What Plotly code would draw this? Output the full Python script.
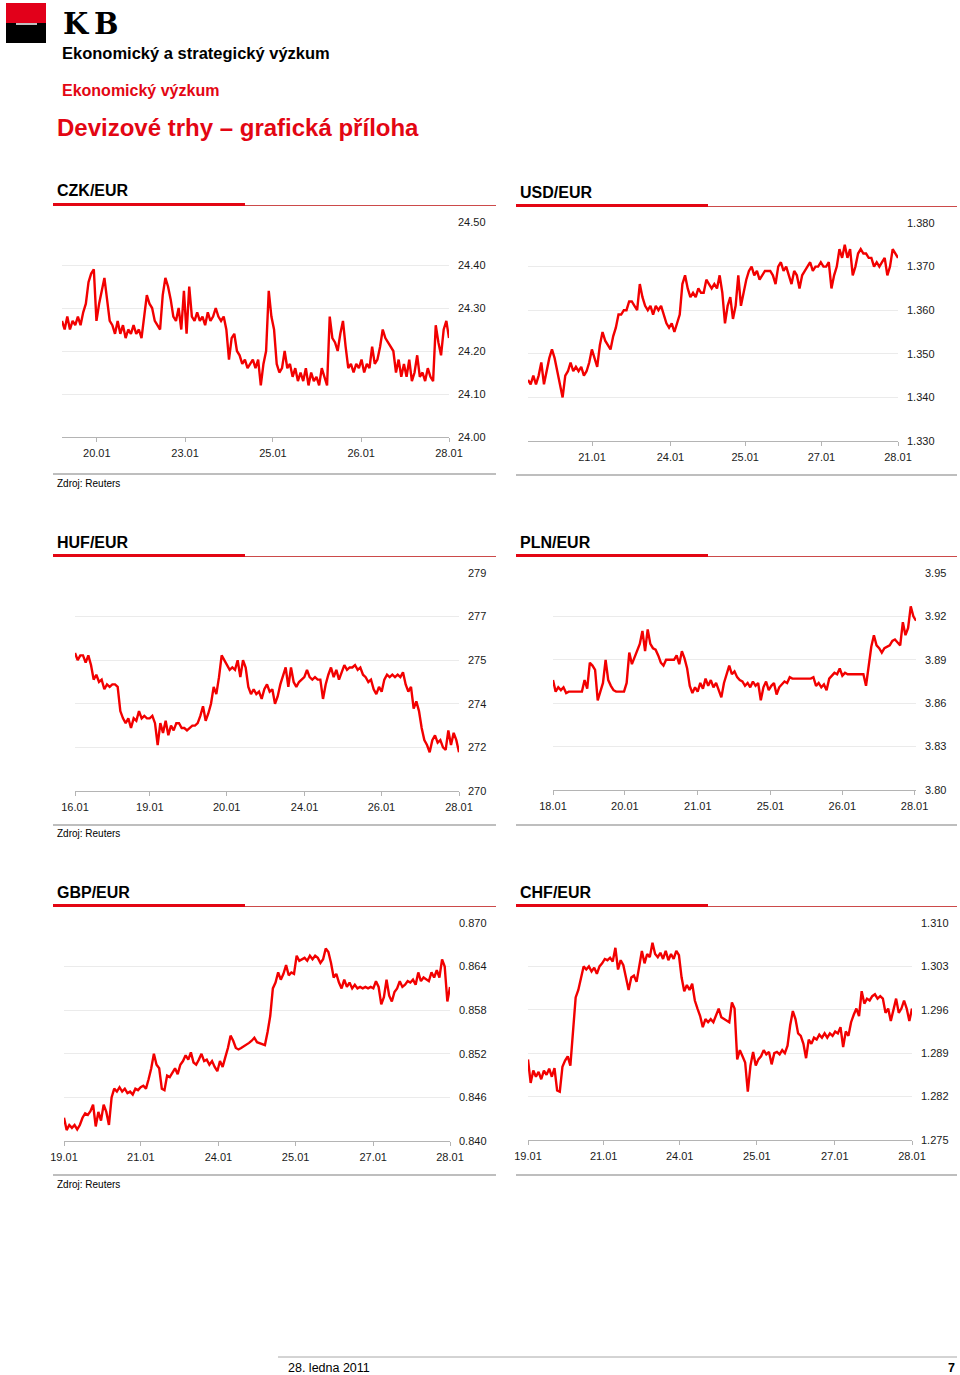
import plotly.graph_objects as go

W, H = 960, 1375
RED = "#e30613"
RULE_RED = "#cc4a4a"
LINE_RED = "#f20000"
FONT = "Liberation Sans, Arial, sans-serif"

czk_values = [
    24.27, 24.25, 24.28, 24.25, 24.27, 24.26, 24.28, 24.26, 24.29,
    24.31, 24.36, 24.38, 24.39, 24.27, 24.31, 24.34, 24.37, 24.32, 24.27,
    24.26, 24.24, 24.27, 24.24, 24.26, 24.23, 24.25, 24.24, 24.26, 24.24, 24.25, 24.23,
    24.28, 24.33, 24.31, 24.30, 24.27, 24.26, 24.25, 24.33, 24.37, 24.35, 24.32, 24.28,
    24.27, 24.30, 24.25, 24.34, 24.24, 24.35,
    24.28, 24.27, 24.29, 24.27, 24.28, 24.26, 24.29, 24.27, 24.28, 24.30, 24.28, 24.27,
    24.28, 24.25, 24.18, 24.23, 24.24, 24.20, 24.19, 24.17, 24.18, 24.16, 24.17, 24.18,
    24.16, 24.18, 24.12, 24.17, 24.20, 24.34, 24.28, 24.25, 24.17, 24.15, 24.16, 24.20,
    24.16, 24.17,
    24.14, 24.16, 24.13, 24.15, 24.13, 24.16, 24.12, 24.15, 24.13, 24.14, 24.12, 24.16, 24.14,
    24.12, 24.28, 24.23, 24.22, 24.20, 24.24, 24.27, 24.21, 24.16, 24.17, 24.15, 24.17,
    24.16, 24.18, 24.15, 24.17, 24.16, 24.21, 24.17, 24.18, 24.21, 24.25, 24.23, 24.22,
    24.21, 24.20, 24.15, 24.18, 24.14, 24.17, 24.14, 24.18, 24.13, 24.15, 24.19, 24.14,
    24.15, 24.13, 24.16, 24.14, 24.13, 24.26, 24.22, 24.19, 24.25, 24.27, 24.23,
]
czk_dates = ["20.01", "23.01", "25.01", "26.01", "28.01"]
czk_date_frac = [0.090, 0.318, 0.545, 0.773, 1.0]
czk_yticks = [24.00, 24.10, 24.20, 24.30, 24.40, 24.50]
czk_ylabels = ["24.00", "24.10", "24.20", "24.30", "24.40", "24.50"]

usd_values = [
    1.344, 1.343, 1.345, 1.343, 1.345, 1.348, 1.343, 1.346, 1.349, 1.351, 1.349, 1.346,
    1.343, 1.340, 1.345, 1.346, 1.348, 1.346, 1.347, 1.346, 1.347, 1.345, 1.346, 1.348,
    1.351, 1.349, 1.347, 1.352, 1.355, 1.353, 1.352, 1.351, 1.354, 1.356, 1.359, 1.359,
    1.360, 1.360, 1.362, 1.362, 1.361, 1.360, 1.366, 1.363, 1.361, 1.360, 1.361, 1.359,
    1.361, 1.360, 1.361, 1.359, 1.357, 1.356, 1.357, 1.355, 1.357, 1.359, 1.366, 1.368,
    1.365, 1.363, 1.364, 1.363, 1.365, 1.364, 1.364, 1.367, 1.366, 1.365, 1.366, 1.365,
    1.368, 1.364, 1.357, 1.361, 1.363, 1.358, 1.361, 1.368, 1.361, 1.364, 1.367, 1.369,
    1.370, 1.368, 1.369, 1.367, 1.368, 1.369, 1.369, 1.369, 1.368, 1.366, 1.370, 1.371,
    1.369, 1.370, 1.368, 1.366, 1.369, 1.368, 1.365, 1.368, 1.369, 1.370, 1.371, 1.369,
    1.370, 1.370, 1.371, 1.370, 1.370, 1.371, 1.365, 1.368, 1.370, 1.374, 1.372, 1.375,
    1.372, 1.374, 1.368, 1.370, 1.373, 1.374, 1.373, 1.373, 1.372, 1.372, 1.370, 1.371,
    1.370, 1.371, 1.372, 1.368, 1.370, 1.374, 1.373, 1.372,
]
usd_dates = ["21.01", "24.01", "25.01", "27.01", "28.01"]
usd_date_frac = [0.173, 0.385, 0.587, 0.793, 1.0]
usd_yticks = [1.330, 1.340, 1.350, 1.360, 1.370, 1.380]
usd_ylabels = ["1.330", "1.340", "1.350", "1.360", "1.370", "1.380"]

huf_values = [
    275.7, 275.4, 275.6, 275.6, 275.3, 275.6, 275.2, 274.6, 274.8, 274.5, 274.6, 274.2,
    274.4, 274.3, 274.4, 274.4, 274.3, 273.3, 273.0, 272.8, 273.0, 272.6, 273.0, 272.9,
    273.3, 273.0, 273.1, 273.0, 273.0, 273.1, 272.8, 271.9, 272.8, 272.4, 272.9, 272.3,
    272.7, 272.5, 272.8, 272.8, 272.6, 272.6, 272.5, 272.6, 272.7, 272.7, 272.8, 273.1,
    273.5, 272.9, 273.2, 273.6, 274.3, 274.0, 274.7, 275.6, 275.4, 275.2, 275.0, 275.1,
    275.0, 275.4, 274.7, 275.4, 275.1, 274.3, 274.0, 274.2, 274.0, 274.1, 273.8, 274.2,
    274.4, 274.1, 274.2, 273.6, 273.9, 274.4, 274.8, 275.1, 274.3, 275.1, 274.5, 274.3,
    274.5, 274.6, 274.7, 275.0, 274.7, 274.6, 274.7, 274.6, 274.6, 273.8, 274.4, 274.8,
    275.1, 274.7, 275.0, 274.6, 274.9, 275.2, 275.0, 275.1, 275.1, 275.2, 275.0, 275.1,
    274.8, 274.7, 274.5, 274.6, 274.2, 274.0, 274.3, 274.1, 274.6, 274.8, 274.7, 274.8,
    274.7, 274.8, 274.7, 274.9, 274.4, 274.1, 274.3, 273.4, 273.7, 273.3, 272.6, 272.1,
    271.9, 271.6, 272.1, 272.3, 272.0, 272.1, 271.8, 271.7, 272.5, 271.9, 272.4, 272.1,
    271.6,
]
huf_dates = ["16.01", "19.01", "20.01", "24.01", "26.01", "28.01"]
huf_date_frac = [0.0, 0.195, 0.395, 0.598, 0.798, 1.0]
huf_yticks = [270.0, 271.8, 273.6, 275.4, 277.2, 279.0]
huf_ylabels = ["270", "272", "274", "275", "277", "279"]

pln_values = [
    3.876, 3.868, 3.871, 3.869, 3.871, 3.867, 3.868, 3.868, 3.868, 3.868, 3.868, 3.868,
    3.876, 3.870, 3.888, 3.886, 3.883, 3.862, 3.868, 3.874, 3.890, 3.876, 3.872, 3.869,
    3.868, 3.868, 3.868, 3.868, 3.874, 3.895, 3.887, 3.892, 3.896, 3.901, 3.910, 3.896,
    3.911, 3.901, 3.898, 3.897, 3.893, 3.888, 3.886, 3.890, 3.890, 3.890, 3.890, 3.893,
    3.887, 3.896, 3.891, 3.884, 3.872, 3.867, 3.871, 3.868, 3.874, 3.870, 3.877, 3.872,
    3.876, 3.871, 3.874, 3.869, 3.864, 3.874, 3.880, 3.886, 3.880, 3.882, 3.878, 3.876,
    3.875, 3.872, 3.874, 3.871, 3.875, 3.872, 3.874, 3.862, 3.871, 3.875, 3.869, 3.872,
    3.874, 3.866, 3.871, 3.873, 3.875, 3.874, 3.878, 3.877, 3.877, 3.877, 3.877, 3.877,
    3.877, 3.877, 3.877, 3.878, 3.872, 3.874, 3.871, 3.873, 3.869, 3.877, 3.879, 3.881,
    3.880, 3.884, 3.879, 3.881, 3.880, 3.880, 3.880, 3.880, 3.880, 3.880, 3.880, 3.872,
    3.886, 3.899, 3.907, 3.900, 3.898, 3.895, 3.898, 3.899, 3.900, 3.903, 3.904, 3.902,
    3.900, 3.916, 3.907, 3.912, 3.927, 3.920, 3.917,
]
pln_dates = ["18.01", "20.01", "21.01", "25.01", "26.01", "28.01"]
pln_date_frac = [0.0, 0.198, 0.399, 0.599, 0.797, 0.996]
pln_yticks = [3.80, 3.83, 3.86, 3.89, 3.92, 3.95]
pln_ylabels = ["3.80", "3.83", "3.86", "3.89", "3.92", "3.95"]

gbp_values = [
    0.8432, 0.8415, 0.8422, 0.8418, 0.8422, 0.8416, 0.8422, 0.8432, 0.8438, 0.8436,
    0.8441, 0.8450, 0.8420, 0.8440, 0.8428, 0.8450, 0.8440, 0.8422, 0.8460, 0.8472,
    0.8468, 0.8474, 0.8468, 0.8472, 0.8466, 0.8468, 0.8464, 0.8472, 0.8470, 0.8474,
    0.8476, 0.8472, 0.8485, 0.8500, 0.8520, 0.8505, 0.8500, 0.8472, 0.8470, 0.8490,
    0.8488, 0.8495, 0.8500, 0.8492, 0.8505, 0.8510, 0.8518, 0.8512, 0.8522, 0.8508,
    0.8505, 0.8512, 0.8520, 0.8510, 0.8512, 0.8505, 0.8510, 0.8502, 0.8496, 0.8510,
    0.8502, 0.8515, 0.8528, 0.8545, 0.8538, 0.8528, 0.8526, 0.8528, 0.8530, 0.8532,
    0.8535, 0.8538, 0.8542, 0.8536, 0.8535, 0.8533, 0.8532, 0.8550, 0.8572, 0.8610,
    0.8618, 0.8632, 0.8622, 0.8630, 0.8642, 0.8628, 0.8632, 0.8630, 0.8655, 0.8648,
    0.8650, 0.8652, 0.8648, 0.8655, 0.8650, 0.8655, 0.8652, 0.8645, 0.8650, 0.8665,
    0.8660, 0.8645, 0.8625, 0.8630, 0.8618, 0.8610, 0.8622, 0.8612, 0.8618, 0.8610,
    0.8615, 0.8610, 0.8612, 0.8610, 0.8612, 0.8610, 0.8612, 0.8610, 0.8620, 0.8612,
    0.8588, 0.8598, 0.8622, 0.8600, 0.8592, 0.8605, 0.8610, 0.8620, 0.8612, 0.8615,
    0.8620, 0.8618, 0.8622, 0.8615, 0.8632, 0.8620, 0.8625, 0.8622, 0.8620, 0.8632,
    0.8625, 0.8635, 0.8625, 0.8650, 0.8640, 0.8592, 0.8612,
]
gbp_dates = ["19.01", "21.01", "24.01", "25.01", "27.01", "28.01"]
gbp_date_frac = [0.0, 0.199, 0.400, 0.600, 0.801, 1.0]
gbp_yticks = [0.840, 0.846, 0.852, 0.858, 0.864, 0.870]
gbp_ylabels = ["0.840", "0.846", "0.852", "0.858", "0.864", "0.870"]

chf_values = [
    1.2880, 1.2842, 1.2862, 1.2852, 1.2860, 1.2848, 1.2862, 1.2855, 1.2865, 1.2852,
    1.2866, 1.2830, 1.2828, 1.2868, 1.2878, 1.2885, 1.2870, 1.2930, 1.2980, 1.2992,
    1.3010, 1.3030, 1.3025, 1.3030, 1.3022, 1.3028, 1.3018, 1.3030, 1.3035, 1.3042,
    1.3040, 1.3044, 1.3038, 1.3060, 1.3025, 1.3040, 1.3032, 1.3012, 1.2992, 1.3012,
    1.3015, 1.3005, 1.3030, 1.3055, 1.3035, 1.3050, 1.3045, 1.3068, 1.3050, 1.3045,
    1.3052, 1.3042, 1.3055, 1.3040, 1.3050, 1.3042, 1.3055, 1.3048, 1.3012, 1.2990,
    1.3000, 1.2992, 1.3002, 1.2975, 1.2962, 1.2950, 1.2932, 1.2945, 1.2940, 1.2945,
    1.2940, 1.2950, 1.2962, 1.2948, 1.2945, 1.2942, 1.2940, 1.2972, 1.2962, 1.2880,
    1.2895, 1.2885, 1.2875, 1.2828, 1.2870, 1.2892, 1.2870, 1.2880, 1.2885, 1.2895,
    1.2888, 1.2892, 1.2872, 1.2890, 1.2892, 1.2888, 1.2895, 1.2890, 1.2902, 1.2935,
    1.2958, 1.2945, 1.2922, 1.2918, 1.2905, 1.2882, 1.2912, 1.2905, 1.2915, 1.2912,
    1.2920, 1.2915, 1.2922, 1.2915, 1.2922, 1.2918, 1.2925, 1.2922, 1.2932, 1.2900,
    1.2925, 1.2918, 1.2940, 1.2952, 1.2962, 1.2950, 1.2990, 1.2970, 1.2978, 1.2975,
    1.2982, 1.2985, 1.2978, 1.2982, 1.2978, 1.2955, 1.2962, 1.2942, 1.2958, 1.2978,
    1.2955, 1.2962, 1.2975, 1.2962, 1.2942, 1.2962,
]
chf_dates = ["19.01", "21.01", "24.01", "25.01", "27.01", "28.01"]
chf_date_frac = [0.0, 0.197, 0.395, 0.596, 0.799, 1.0]
chf_yticks = [1.275, 1.282, 1.289, 1.296, 1.303, 1.310]
chf_ylabels = ["1.275", "1.282", "1.289", "1.296", "1.303", "1.310"]


def px_x(x):
    return x / W


def px_y(y):
    return 1 - y / H


# panel: name, values, dates, date fractions, yticks, ylabels, plot box in px (x0, x1, ytop, ybottom)
panels = [
    ("CZK/EUR", czk_values, czk_dates, czk_date_frac, czk_yticks, czk_ylabels, (62, 449, 222, 437)),
    ("USD/EUR", usd_values, usd_dates, usd_date_frac, usd_yticks, usd_ylabels, (528, 898, 223, 441)),
    ("HUF/EUR", huf_values, huf_dates, huf_date_frac, huf_yticks, huf_ylabels, (75, 459, 573, 791)),
    ("PLN/EUR", pln_values, pln_dates, pln_date_frac, pln_yticks, pln_ylabels, (553, 916, 573, 790)),
    ("GBP/EUR", gbp_values, gbp_dates, gbp_date_frac, gbp_yticks, gbp_ylabels, (64, 450, 923, 1141)),
    ("CHF/EUR", chf_values, chf_dates, chf_date_frac, chf_yticks, chf_ylabels, (528, 912, 923, 1140)),
]

fig = go.Figure()
layout = {}
shapes = []
annotations = []


def text(x, y, s, size, color="#000000", bold=False, xanchor="left", family=FONT):
    annotations.append(dict(
        x=px_x(x), y=px_y(y), xref="paper", yref="paper",
        text=f"<b>{s}</b>" if bold else s, showarrow=False,
        xanchor=xanchor, yanchor="middle", borderpad=0,
        font=dict(family=family, size=size, color=color),
    ))


def hline(x0, x1, y, color, width):
    shapes.append(dict(type="line", xref="paper", yref="paper",
                       x0=px_x(x0), x1=px_x(x1), y0=px_y(y), y1=px_y(y),
                       line=dict(color=color, width=width)))


def rect(x0, x1, y0, y1, color):
    shapes.append(dict(type="rect", xref="paper", yref="paper",
                       x0=px_x(x0), x1=px_x(x1), y0=px_y(y1), y1=px_y(y0),
                       fillcolor=color, line=dict(width=0)))


for i, (name, values, dates, fracs, yticks, ylabels, box) in enumerate(panels, start=1):
    x0, x1, ytop, ybot = box
    n = len(values)
    fig.add_trace(go.Scatter(
        x=list(range(n)), y=values, mode="lines",
        line=dict(color=LINE_RED, width=2.4),
        xaxis=f"x{i}", yaxis=f"y{i}", showlegend=False, hoverinfo="skip",
    ))
    layout[f"xaxis{i}"] = dict(
        domain=[px_x(x0), px_x(x1)], anchor=f"y{i}", automargin=False,
        range=[0, n - 1], showgrid=False, zeroline=False,
        showline=True, linecolor="#b4b4b4", linewidth=1,
        ticks="outside", ticklen=4, tickcolor="#b4b4b4", ticklabelstandoff=2,
        tickvals=[f * (n - 1) for f in fracs], ticktext=dates,
        tickfont=dict(family=FONT, size=11, color="#1a1a1a"),
        fixedrange=True,
    )
    layout[f"yaxis{i}"] = dict(
        domain=[px_y(ybot), px_y(ytop)], anchor=f"x{i}", side="right",
        automargin=False,
        range=[yticks[0], yticks[-1]], tickvals=yticks, ticktext=ylabels,
        showgrid=True, gridcolor="#ebebeb", gridwidth=1, zeroline=False,
        showline=False, ticks="", ticklabelstandoff=8,
        tickfont=dict(family=FONT, size=11, color="#1a1a1a"),
        fixedrange=True,
    )

    # panel header: title, thick red bar + thin muted red rule
    left = x0 < 300
    hx0, hx1 = (53, 496) if left else (516, 957)
    title_y = ytop - 31
    text(hx0 + 3, title_y, name, 16, bold=True)
    rect(hx0, hx0 + 192, title_y + 12, title_y + 15, RED)
    hline(hx0 + 192, hx1, title_y + 14.5, RULE_RED, 1)
    # bottom rule
    hline(hx0, hx1, ytop + 252, "#a8a8a8", 1.5)
    if left:
        text(56, ytop + 261, "Zdroj: Reuters", 10)

# logo
rect(6, 46, 3, 23, "#e2001a")
rect(6, 46, 23, 43, "#000000")
hline(16, 37, 24, "#ffffff", 1.5)
text(76, 24, "K", 29, bold=True, xanchor="center", family="DejaVu Serif, Liberation Serif, serif")
text(106, 24, "B", 29, bold=True, xanchor="center", family="DejaVu Serif, Liberation Serif, serif")

# headings
text(61, 53, "Ekonomický a strategický výzkum", 16.5, bold=True)
text(61, 91, "Ekonomický výzkum", 16, color=RED, bold=True)
text(56, 127, "Devizové trhy – grafická příloha", 24, color=RED, bold=True)

# footer
hline(278, 957, 1357, "#a8a8a8", 1)
text(287, 1368, "28. ledna 2011", 12.5)
text(956, 1368, "7", 12.5, bold=True, xanchor="right")

fig.update_layout(
    width=W, height=H,
    margin=dict(l=0, r=0, t=0, b=0, autoexpand=False),
    paper_bgcolor="white", plot_bgcolor="white",
    showlegend=False,
    shapes=shapes, annotations=annotations,
    **layout,
)

fig.write_html("out.html", config={"displayModeBar": False},
               post_script="document.body.style.margin='0';")
